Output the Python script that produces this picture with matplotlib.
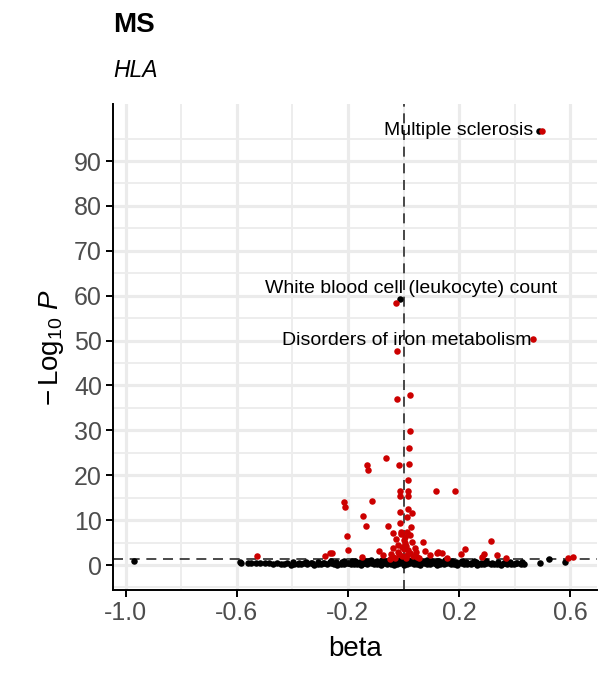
import numpy as np
import matplotlib
matplotlib.use("Agg")
import matplotlib.pyplot as plt

plt.rcParams['font.family'] = ['Liberation Sans', 'DejaVu Sans']
plt.rcParams['mathtext.fontset'] = 'custom'
plt.rcParams['mathtext.rm'] = 'Liberation Sans'
plt.rcParams['mathtext.it'] = 'Liberation Sans:italic'

# non-significant traits (black), (beta, -log10 P)
black_low = [(-0.442, 0.3), (-0.431, 0.2), (-0.418, 0.4), (-0.405, 0.1), (-0.394, 0.3), (-0.381, 0.25),
             (-0.369, 0.15), (-0.357, 0.35), (-0.346, 0.2), (-0.333, 0.4), (-0.321, 0.1), (-0.309, 0.3),
             (-0.297, 0.2), (-0.286, 0.35), (-0.274, 0.15), (-0.262, 0.4), (-0.249, 0.25), (-0.238, 0.1),
             (-0.226, 0.3), (-0.214, 0.2), (-0.201, 0.45), (-0.190, 0.15), (-0.178, 0.3), (-0.166, 0.25),
             (-0.153, 0.1), (-0.142, 0.4), (-0.130, 0.2), (-0.118, 0.35), (-0.106, 0.15), (-0.094, 0.3),
             (-0.082, 0.05), (-0.070, 0.4), (-0.058, 0.2), (-0.046, 0.3), (-0.034, 0.1), (-0.022, 0.25),
             (-0.011, 0.35), (0.001, 0.05), (0.013, 0.2), (0.025, 0.4), (0.037, 0.15), (0.049, 0.3),
             (0.061, 0.1), (0.073, 0.35), (0.085, 0.25), (0.097, 0.2), (0.109, 0.4), (0.121, 0.1),
             (0.133, 0.3), (0.145, 0.15), (0.157, 0.35), (0.169, 0.2), (0.181, 0.25), (0.193, 0.1),
             (0.205, 0.4), (0.217, 0.3), (0.229, 0.15), (0.241, 0.2), (0.253, 0.35), (0.265, 0.1),
             (0.277, 0.3), (0.289, 0.25), (0.301, 0.4), (0.313, 0.15), (0.325, 0.2), (0.337, 0.3),
             (0.349, 0.1), (0.361, 0.35), (0.373, 0.25), (0.385, 0.2), (0.397, 0.15), (0.409, 0.4),
             (0.421, 0.3), (0.432, 0.2)]
black_mid = [(-0.398, 0.6), (-0.376, 0.5), (-0.352, 0.7), (-0.331, 0.55), (-0.309, 0.65), (-0.288, 0.5),
             (-0.266, 0.75), (-0.244, 0.6), (-0.223, 0.7), (-0.201, 0.55), (-0.186, 0.8), (-0.171, 0.6),
             (-0.157, 0.7), (-0.142, 0.5), (-0.128, 0.85), (-0.115, 0.65), (-0.101, 0.75), (-0.088, 0.55),
             (-0.076, 0.8), (-0.064, 0.6), (-0.052, 0.7), (-0.041, 0.85), (-0.031, 0.5), (-0.021, 0.75),
             (-0.012, 0.6), (-0.003, 0.8), (0.006, 0.55), (0.016, 0.7), (0.027, 0.85), (0.038, 0.6),
             (0.049, 0.75), (0.061, 0.5), (0.073, 0.8), (0.086, 0.65), (0.099, 0.7), (0.113, 0.55),
             (0.127, 0.8), (0.142, 0.6), (0.157, 0.7), (0.172, 0.5), (0.188, 0.75), (0.205, 0.6),
             (0.223, 0.65), (0.241, 0.5), (0.259, 0.7), (0.278, 0.55), (0.297, 0.6), (0.318, 0.5),
             (0.339, 0.65), (0.361, 0.5), (0.383, 0.6), (0.404, 0.45), (0.426, 0.7)]
black_high = [(-0.262, 0.9), (-0.214, 0.95), (-0.176, 1.0), (-0.139, 0.9), (-0.118, 1.1), (-0.096, 1.0),
              (-0.079, 1.2), (-0.063, 0.95), (-0.049, 1.15), (-0.036, 1.25), (-0.024, 1.05), (-0.014, 1.2),
              (-0.005, 1.0), (0.004, 1.25), (0.012, 1.1), (0.021, 0.95), (0.031, 1.2), (0.042, 1.05),
              (0.054, 1.15), (0.068, 0.95), (0.083, 1.1), (0.101, 1.0), (0.122, 0.9), (0.148, 1.05),
              (0.176, 0.9), (0.212, 0.95), (0.254, 0.9), (0.296, 0.85)]
black_outer = [(-0.968, 0.9), (-0.588, 0.6), (-0.583, 0.35), (-0.561, 0.45), (-0.547, 0.5), (-0.531, 0.4),
               (-0.516, 0.45), (-0.499, 0.5), (-0.484, 0.4), (-0.468, 0.3), (-0.455, 0.45),
               (0.49, 0.5), (0.524, 1.25), (0.58, 0.7),
               (0.487, 96.7), (-0.012, 59.2)]

# significant traits (red)
red_pts = [(-0.526, 2.1), (-0.282, 2.1), (-0.258, 2.6), (-0.264, 2.7), (-0.213, 14.0), (-0.21, 12.9),
           (-0.203, 6.4), (-0.2, 3.3), (-0.15, 1.7), (-0.147, 11.0), (-0.136, 8.8), (-0.131, 22.3),
           (-0.127, 21.2), (-0.114, 14.3), (-0.087, 3.1), (-0.073, 2.2), (-0.063, 23.8), (-0.055, 8.8),
           (-0.039, 7.1), (-0.028, 5.9), (-0.037, 3.7), (-0.037, 1.8), (-0.045, 2.4), (-0.03, 1.5),
           (-0.05, 1.4), (-0.022, 36.9), (-0.016, 22.3), (-0.013, 16.5), (-0.013, 15.4), (-0.012, 11.9),
           (-0.013, 9.4), (-0.01, 7.3), (-0.019, 3.0), (-0.02, 4.5), (-0.015, 2.5), (-0.008, 6.8),
           (-0.006, 4.1), (-0.006, 2.0), (0.0, 5.5), (0.003, 3.5), (0.005, 4.8), (0.005, 6.3),
           (0.008, 1.6), (0.01, 4.2), (0.012, 7.4), (0.012, 2.2), (0.013, 10.6), (0.015, 12.5),
           (0.016, 18.9), (0.017, 16.5), (0.017, 15.4), (0.017, 3.3), (0.02, 26.1), (0.02, 22.6),
           (0.022, 29.8), (0.022, 6.6), (0.025, 37.8), (0.025, 2.6), (0.026, 8.5), (0.029, 5.2),
           (0.03, 11.6), (0.035, 2.0), (0.041, 3.7), (0.045, 2.9), (0.047, 1.8), (0.055, 1.5),
           (0.069, 5.1), (0.076, 3.1), (0.095, 2.2), (0.116, 16.4), (0.119, 2.7), (0.123, 2.8),
           (0.14, 2.6), (0.158, 1.6), (0.185, 16.4), (0.206, 2.4), (0.221, 3.6), (0.283, 1.7),
           (0.29, 2.4), (0.315, 5.3), (0.335, 2.2), (0.369, 1.6), (0.59, 1.6), (0.611, 1.85),
           (0.497, 96.7), (-0.028, 58.4), (0.467, 50.3), (-0.025, 47.7)]

labels = ["Multiple sclerosis", "White blood cell (leukocyte) count", "Disorders of iron metabolism"]
label_x = [0.466, 0.027, 0.459]
label_y = [96.7, 61.5, 50.1]
label_ha = ["right", "center", "right"]

xticks = [-1.0, -0.6, -0.2, 0.2, 0.6]
xtick_labels = ["-1.0", "-0.6", "-0.2", "0.2", "0.6"]
yticks = list(range(0, 100, 10))

black = np.array(black_low + black_mid + black_high + black_outer)
red = np.array(red_pts)

fig = plt.figure(figsize=(6.05, 6.75), dpi=100)
ax = fig.add_axes([0.1868, 0.1259, 0.80, 0.72])

ax.set_xlim(-1.045, 0.696)
ax.set_ylim(-5.57, 102.7)

# grid like ggplot minimal
ax.set_xticks(xticks)
ax.set_xticklabels(xtick_labels)
ax.set_xticks([-0.8, -0.4, 0.0, 0.4], minor=True)
ax.set_yticks(yticks)
ax.set_yticks(list(range(-5, 100, 10)), minor=True)
ax.grid(which='major', color='#EBEBEB', lw=2.3, zorder=0)
ax.grid(which='minor', color='#EDEDED', lw=1.4, zorder=0)
ax.set_axisbelow(True)

ax.axvline(0, color='#2B2B2B', ls=(0, (6, 4)), lw=1.2, zorder=1)
ax.axhline(-np.log10(0.05), color='#2B2B2B', ls=(0, (6, 4)), lw=1.2, zorder=1)

ax.scatter(black[:, 0], black[:, 1], s=22, color='black', linewidths=0, zorder=2)
ax.scatter(red[:, 0], red[:, 1], s=22, color='#CC0000', linewidths=0, zorder=3)

for t, x, y, ha in zip(labels, label_x, label_y, label_ha):
    ax.text(x, y, t, ha=ha, va='center', fontsize=14, color='black', zorder=4)

for s in ['top', 'right']:
    ax.spines[s].set_visible(False)
for s in ['left', 'bottom']:
    ax.spines[s].set_linewidth(1.4)
ax.tick_params(which='major', length=5, width=1.4, color='black', labelsize=18,
               labelcolor='#4D4D4D', pad=3)
ax.tick_params(which='minor', length=0)

ax.set_xlabel('beta', fontsize=20, labelpad=8)
ax.set_ylabel(r'$-\,\mathrm{Log}_{10}\ P$', fontsize=20, labelpad=6)

fig.text(113 / 605, 1 - 32 / 675, 'MS', fontsize=20, fontweight='bold', ha='left', va='baseline')
fig.text(113 / 605, 1 - 77 / 675, 'HLA', fontsize=16.5, style='italic', ha='left', va='baseline')

fig.savefig('out.png', dpi=100)
